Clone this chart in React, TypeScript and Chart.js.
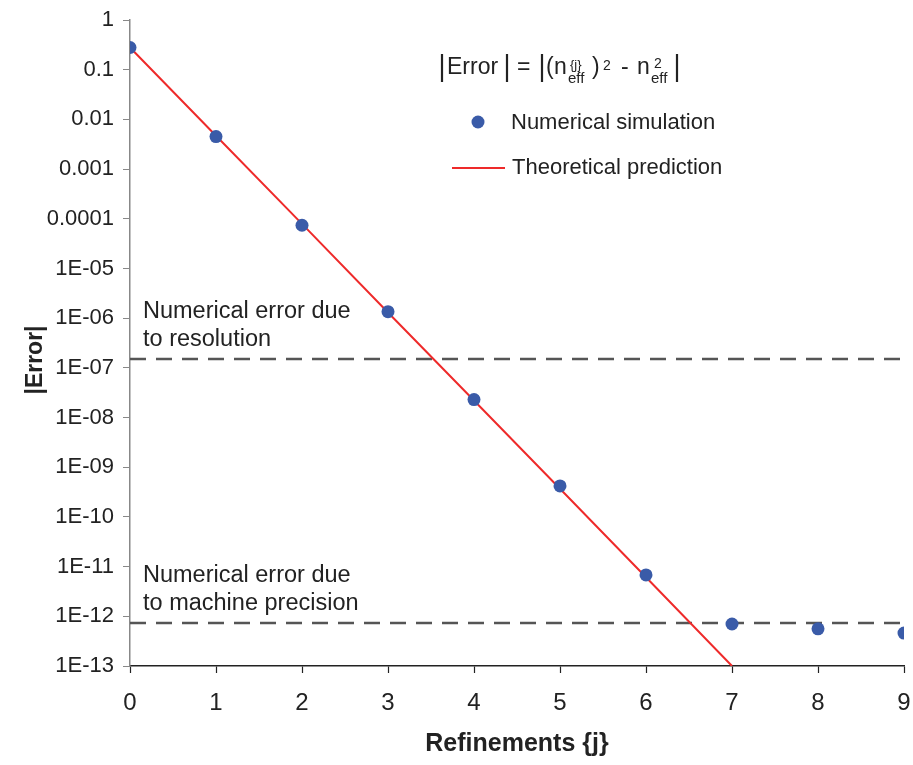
import React, { useEffect, useRef } from "react";
import { Chart, registerables } from "chart.js";

Chart.register(...registerables);

// ---- data ----
const refinements = [0, 1, 2, 3, 4, 5, 6, 7, 8, 9];
const simulationError = [0.28, 4.5e-3, 7.4e-5, 1.35e-6, 2.3e-8, 4.2e-10, 6.8e-12, 7.0e-13, 5.6e-13, 4.6e-13];
const theoryJ = [0, 1, 2, 3, 4, 5, 6, 7];
const theoryError = [0.28, 4.7e-3, 7.9e-5, 1.3e-6, 2.2e-8, 3.7e-10, 6.1e-12, 1e-13];
const resolutionFloor = 1.5e-7;
const machineFloor = 7.3e-13;
const yTickValues = [1, 0.1, 0.01, 0.001, 0.0001, 1e-5, 1e-6, 1e-7, 1e-8, 1e-9, 1e-10, 1e-11, 1e-12, 1e-13];
const yTickLabels = ["1", "0.1", "0.01", "0.001", "0.0001", "1E-05", "1E-06", "1E-07", "1E-08", "1E-09", "1E-10", "1E-11", "1E-12", "1E-13"];
const xTickValues = [0, 1, 2, 3, 4, 5, 6, 7, 8, 9];
const seriesLabels = ["Numerical simulation", "Theoretical prediction"];
const annotationResolution = ["Numerical error due", "to resolution"];
const annotationMachine = ["Numerical error due", "to machine precision"];
const yTitle = "|Error|";
const xTitle = "Refinements {j}";

const FONT = "'Liberation Sans', Arial, sans-serif";
const TEXT = "#222222";
const BLUE = "#3a5ba8";
const RED = "#ee2a2a";
const DASH = "#555555";

const overlayPlugin = {
  id: "overlay",
  afterDraw(chart: any) {
    const ctx = chart.ctx as CanvasRenderingContext2D;
    const area = chart.chartArea;
    const ys = chart.scales.y;
    ctx.save();
    ctx.fillStyle = TEXT;
    ctx.textAlign = "left";
    ctx.textBaseline = "alphabetic";

    // annotations
    ctx.font = `23.5px ${FONT}`;
    const yr = ys.getPixelForValue(resolutionFloor);
    ctx.fillText(annotationResolution[0], area.left + 13, yr - 41);
    ctx.fillText(annotationResolution[1], area.left + 13, yr - 13);
    const ym = ys.getPixelForValue(machineFloor);
    ctx.fillText(annotationMachine[0], area.left + 13, ym - 41);
    ctx.fillText(annotationMachine[1], area.left + 13, ym - 13);

    // y title
    ctx.save();
    ctx.translate(36, 360);
    ctx.rotate(-Math.PI / 2);
    ctx.textAlign = "center";
    ctx.textBaseline = "middle";
    ctx.font = `bold 23px ${FONT}`;
    ctx.fillText(yTitle, 0, 0);
    ctx.restore();

    // formula: |Error| = |(n_eff^{j})^2 - n_eff^2|
    const x0 = 442;
    const base = 74;
    const main = `23px ${FONT}`;
    const sub = `15px ${FONT}`;
    const sup = `14px ${FONT}`;
    const bar = (x: number) => {
      ctx.save();
      ctx.strokeStyle = TEXT;
      ctx.lineWidth = 2.2;
      ctx.beginPath();
      ctx.moveTo(x, 54);
      ctx.lineTo(x, 82);
      ctx.stroke();
      ctx.restore();
    };
    bar(x0);
    ctx.font = main;
    ctx.fillText("Error", x0 + 5, base);
    bar(x0 + 65);
    ctx.fillText("=", x0 + 75, base);
    bar(x0 + 100);
    ctx.fillText("(", x0 + 104, base);
    ctx.fillText("n", x0 + 112, base);
    ctx.font = sub;
    ctx.fillText("eff", x0 + 126, base + 9);
    ctx.font = `13px ${FONT}`;
    ctx.fillText("{j}", x0 + 128, base - 5);
    ctx.font = main;
    ctx.fillText(")", x0 + 150, base);
    ctx.font = sup;
    ctx.fillText("2", x0 + 161, base - 4);
    ctx.font = main;
    ctx.fillText("-", x0 + 179, base);
    ctx.fillText("n", x0 + 195, base);
    ctx.font = sub;
    ctx.fillText("eff", x0 + 209, base + 9);
    ctx.font = sup;
    ctx.fillText("2", x0 + 212, base - 6);
    bar(x0 + 235);

    // legend
    ctx.font = `22px ${FONT}`;
    ctx.textBaseline = "middle";
    ctx.fillStyle = BLUE;
    ctx.beginPath();
    ctx.arc(478, 122, 6.5, 0, Math.PI * 2);
    ctx.fill();
    ctx.fillStyle = TEXT;
    ctx.fillText(seriesLabels[0], 511, 123);
    ctx.strokeStyle = RED;
    ctx.lineWidth = 2;
    ctx.beginPath();
    ctx.moveTo(452, 168);
    ctx.lineTo(505, 168);
    ctx.stroke();
    ctx.fillText(seriesLabels[1], 512, 168);
    ctx.restore();
  },
};

export default function App() {
  const ref = useRef<HTMLCanvasElement | null>(null);
  useEffect(() => {
    if (!ref.current) return;
    const chart = new Chart(ref.current, {
      type: "scatter",
      data: {
        datasets: [
          {
            label: seriesLabels[0],
            data: refinements.map((j, i) => ({ x: j, y: simulationError[i] })),
            backgroundColor: BLUE,
            borderColor: BLUE,
            pointRadius: 6.5,
            borderWidth: 0,
            showLine: false,
            order: 0,
          },
          {
            label: seriesLabels[1],
            data: theoryJ.map((j, i) => ({ x: j, y: theoryError[i] })),
            borderColor: RED,
            borderWidth: 2,
            pointRadius: 0,
            showLine: true,
            order: 1,
          },
          {
            label: "resolution",
            data: [
              { x: xTickValues[0], y: resolutionFloor },
              { x: xTickValues[xTickValues.length - 1], y: resolutionFloor },
            ],
            borderColor: DASH,
            borderWidth: 2.5,
            borderDash: [16, 10],
            pointRadius: 0,
            showLine: true,
            order: 2,
          },
          {
            label: "machine",
            data: [
              { x: xTickValues[0], y: machineFloor },
              { x: xTickValues[xTickValues.length - 1], y: machineFloor },
            ],
            borderColor: DASH,
            borderWidth: 2.5,
            borderDash: [16, 10],
            pointRadius: 0,
            showLine: true,
            order: 2,
          },
        ],
      },
      options: {
        animation: false,
        responsive: true,
        maintainAspectRatio: false,
        layout: { padding: { top: 20, right: 9, left: 0, bottom: 0 } },
        plugins: { legend: { display: false }, tooltip: { enabled: false } },
        scales: {
          x: {
            type: "linear",
            min: 0,
            max: 9,
            afterBuildTicks: (s: any) => {
              s.ticks = xTickValues.map((v) => ({ value: v }));
            },
            afterFit: (s: any) => {
              s.height = 99;
            },
            ticks: {
              font: { family: FONT, size: 24, lineHeight: 0.8 },
              color: TEXT,
              padding: 2,
              maxRotation: 0,
              // empty first line pushes the label down without widening the side padding
              callback: (v: any) => ["", String(v)],
            },
            grid: { drawOnChartArea: false, tickLength: 7, color: "#222222", tickWidth: 1.2 },
            border: { color: "#222222", width: 1.5 },
            title: {
              display: true,
              text: xTitle,
              font: { family: FONT, size: 25, weight: "bold" },
              color: TEXT,
              padding: { top: 0, bottom: 6 },
            },
          },
          y: {
            type: "logarithmic",
            min: 1e-13,
            max: 1,
            afterBuildTicks: (s: any) => {
              s.ticks = yTickValues.map((v) => ({ value: v }));
            },
            afterFit: (s: any) => {
              s.width = 130;
            },
            ticks: {
              font: { family: FONT, size: 22, lineHeight: 1 },
              color: TEXT,
              padding: 9,
              autoSkip: false,
              callback: (v: any) => {
                const i = yTickValues.findIndex((t) => Math.abs(Math.log10(t) - Math.log10(v)) < 1e-6);
                return i >= 0 ? yTickLabels[i] : "";
              },
            },
            grid: { drawOnChartArea: false, tickLength: 7, color: "#888888" },
            border: { color: "#888888", width: 1.5 },
          },
        },
      },
      plugins: [overlayPlugin],
    } as any);
    return () => chart.destroy();
  }, []);
  return (
    <div style={{ position: "absolute", left: 0, top: 0, width: 913, height: 765, background: "#fff" }}>
      <canvas ref={ref} />
    </div>
  );
}
